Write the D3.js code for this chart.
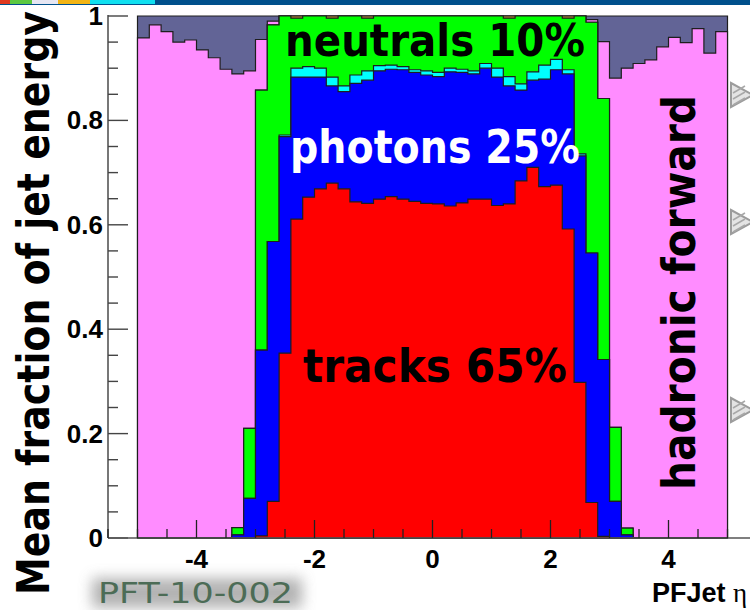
<!DOCTYPE html>
<html>
<head>
<meta charset="utf-8">
<script src="https://cdn.jsdelivr.net/npm/d3@7"></script>
<style>
  html, body { margin: 0; padding: 0; background: #ffffff; }
  svg { display: block; }
</style>
</head>
<body>
<svg id="chart" width="750" height="610"></svg>
<script>
// Mean fraction of PF jet energy carried by each particle type, in bins of jet eta.
const etaLow = -5.0;
const binWidth = 0.2;
const nBins = 50;

const tracks = [
  0, 0, 0, 0, 0, 0, 0, 0, 0, 0,
  0.004, 0.070,
  0.354, 0.611, 0.653, 0.669, 0.680, 0.669, 0.644, 0.641, 0.649, 0.654, 0.649, 0.645, 0.641,
  0.640, 0.636, 0.642, 0.649, 0.649, 0.637, 0.640, 0.684, 0.710, 0.673, 0.676, 0.592, 0.298,
  0.068, 0.003,
  0, 0, 0, 0, 0, 0, 0, 0, 0, 0
];
const photons = [
  0, 0, 0, 0, 0, 0, 0, 0, 0.006, 0.076,
  0.356, 0.498,
  0.415, 0.272, 0.230, 0.214, 0.186, 0.186, 0.227, 0.236, 0.246, 0.244, 0.248, 0.247, 0.246,
  0.244, 0.257, 0.250, 0.240, 0.251, 0.246, 0.226, 0.174, 0.167, 0.206, 0.221, 0.297, 0.434,
  0.478, 0.339,
  0.070, 0.006, 0, 0, 0, 0, 0, 0, 0, 0
];
const electrons = [
  0, 0, 0, 0, 0, 0, 0, 0, 0, 0,
  0, 0,
  0.003, 0.017, 0.020, 0.017, 0.017, 0.011, 0.016, 0.018, 0.010, 0.008, 0.006, 0.005, 0.008,
  0.008, 0.007, 0.006, 0.006, 0.009, 0.017, 0.018, 0.012, 0.016, 0.027, 0.020, 0.008, 0.004,
  0, 0,
  0, 0, 0, 0, 0, 0, 0, 0, 0, 0
];
const neutrals = [
  0, 0, 0, 0, 0, 0, 0, 0, 0.014, 0.134,
  0.498, 0.415,
  0.228, 0.096, 0.097, 0.100, 0.113, 0.134, 0.113, 0.101, 0.095, 0.094, 0.097, 0.103, 0.105,
  0.108, 0.100, 0.102, 0.105, 0.091, 0.100, 0.112, 0.130, 0.107, 0.094, 0.083, 0.099, 0.264,
  0.442, 0.500,
  0.142, 0.013, 0, 0, 0, 0, 0, 0, 0, 0
];
const muons = [
  0, 0, 0, 0, 0, 0, 0, 0, 0, 0,
  0, 0,
  0, 0.004, 0, 0, 0.004, 0, 0, 0.004, 0, 0, 0, 0, 0,
  0, 0, 0, 0, 0, 0, 0.004, 0, 0, 0, 0, 0.004, 0,
  0, 0,
  0, 0, 0, 0, 0, 0, 0, 0, 0, 0
];
const hfHadronic = [
  0.958, 0.983, 0.970, 0.950, 0.954, 0.935, 0.920, 0.898, 0.869, 0.685,
  0.097, 0.007,
  0, 0, 0, 0, 0, 0, 0, 0, 0, 0, 0, 0, 0,
  0, 0, 0, 0, 0, 0, 0, 0, 0, 0, 0, 0, 0,
  0.005, 0.109,
  0.669, 0.881, 0.909, 0.916, 0.941, 0.959, 0.949, 0.976, 0.929, 0.970
];
const hfEm = [
  0.042, 0.017, 0.030, 0.050, 0.046, 0.065, 0.080, 0.102, 0.111, 0.105,
  0.045, 0.010,
  0, 0, 0, 0, 0, 0, 0, 0, 0, 0, 0, 0, 0,
  0, 0, 0, 0, 0, 0, 0, 0, 0, 0, 0, 0, 0,
  0.007, 0.049,
  0.119, 0.100, 0.091, 0.084, 0.059, 0.041, 0.051, 0.024, 0.071, 0.030
];

const seriesKeys = ["tracks", "photons", "electrons", "neutrals", "muons", "hfHadronic", "hfEm"];
const seriesValues = { tracks, photons, electrons, neutrals, muons, hfHadronic, hfEm };
const seriesColors = {
  tracks: "#ff0000",
  photons: "#0000ff",
  electrons: "#00ffff",
  neutrals: "#00ff00",
  muons: "#c8963c",
  hfHadronic: "#ff8cff",
  hfEm: "#626496"
};

const yTicksMajor = [0, 0.2, 0.4, 0.6, 0.8, 1];
const yTickLabels = ["0", "0.2", "0.4", "0.6", "0.8", "1"];
const xTicksMajor = [-4, -2, 0, 2, 4];
const xTickLabels = ["-4", "-2", "0", "2", "4"];

const svg = d3.select("#chart");

// scales: frame spans eta -5.5 .. 5.5 (right part runs past the page edge)
const x = d3.scaleLinear().domain([-5.5, 5.5]).range([108, 757]);
const y = d3.scaleLinear().domain([0, 1]).range([538, 16]);

// slide header strip
const header = svg.append("g");
header.append("rect").attr("x", 0).attr("y", 0).attr("width", 750).attr("height", 5).attr("fill", "#00508c");
[[0, 10, "#e03a20"], [10, 32, "#5cc840"], [32, 58, "#e6e6f2"], [58, 90, "#f2b414"], [90, 155, "#10e0f0"]]
  .forEach(([a, b, c]) => header.append("rect").attr("x", a).attr("y", 0).attr("width", b - a).attr("height", 4).attr("fill", c));

// per-bin records, with a closing record at the upper edge for the step curve
const rows = d3.range(nBins).map(i => {
  const r = { eta: etaLow + i * binWidth };
  seriesKeys.forEach(k => r[k] = seriesValues[k][i]);
  return r;
});
const closing = Object.assign({}, rows[nBins - 1], { eta: etaLow + nBins * binWidth });
const stepRows = rows.concat([closing]);

const stacked = d3.stack().keys(seriesKeys)(stepRows);

// ROOT-style stack: each cumulative histogram filled from zero, drawn top-most first
const area = d3.area()
  .curve(d3.curveStepAfter)
  .x(d => x(d.data.eta))
  .y0(y(0))
  .y1(d => y(d[1]));

const histG = svg.append("g");
stacked.slice().reverse().forEach(layer => {
  histG.append("path")
    .attr("d", area(layer))
    .attr("fill", seriesColors[layer.key])
    .attr("stroke", "#1e1e1e")
    .attr("stroke-width", 1.2)
    .attr("stroke-linejoin", "miter");
});

// y axis on the left, ticks pointing into the frame
const yAxisG = svg.append("g").attr("transform", `translate(${x(-5.5)},0)`);
yAxisG.append("line").attr("x1", 0).attr("x2", 0).attr("y1", y(1) - 1).attr("y2", y(0)).attr("stroke", "#555").attr("stroke-width", 1.6);
const yMinor = d3.range(0, 1.0001, 0.05);
yAxisG.selectAll("line.tick").data(yMinor).join("line")
  .attr("class", "tick")
  .attr("x1", 0)
  .attr("x2", d => (Math.abs(Math.round(d * 5) - d * 5) < 1e-6 ? 20 : 10))
  .attr("y1", d => y(d)).attr("y2", d => y(d))
  .attr("stroke", "#444").attr("stroke-width", 1.4);
yAxisG.selectAll("text").data(yTicksMajor).join("text")
  .attr("x", -5)
  .attr("y", d => y(d) + 9)
  .attr("text-anchor", "end")
  .attr("font-family", "Liberation Sans, Arial, sans-serif")
  .attr("font-weight", "bold")
  .attr("font-size", 26)
  .attr("fill", "#000")
  .text((d, i) => yTickLabels[i]);

// x axis along the bottom, ticks pointing up over the histograms
const xAxisG = svg.append("g").attr("transform", `translate(0,${y(0)})`);
xAxisG.append("line").attr("x1", x(-5.5)).attr("x2", 750).attr("y1", 0).attr("y2", 0).attr("stroke", "#555").attr("stroke-width", 1.6);
const xMinor = d3.range(-5.5, 5.5001, 0.5);
xAxisG.selectAll("line.tick").data(xMinor).join("line")
  .attr("class", "tick")
  .attr("x1", d => x(d)).attr("x2", d => x(d))
  .attr("y1", 0)
  .attr("y2", d => (xTicksMajor.includes(d) ? -18 : -9))
  .attr("stroke", "#222").attr("stroke-width", 1.3);
xAxisG.selectAll("text").data(xTicksMajor).join("text")
  .attr("x", d => x(d))
  .attr("y", 30)
  .attr("text-anchor", "middle")
  .attr("font-family", "Liberation Sans, Arial, sans-serif")
  .attr("font-weight", "bold")
  .attr("font-size", 26)
  .attr("fill", "#000")
  .text((d, i) => xTickLabels[i]);

// text squeezed horizontally (in its own frame) to a target run length
function fittedText(parent, txt, tx, ty, rotate, anchor, size, targetLen, color, weight) {
  const g = parent.append("g").attr("transform", `translate(${tx},${ty}) rotate(${rotate})`);
  const t = g.append("text")
    .attr("text-anchor", anchor)
    .attr("font-family", "Comic Sans MS, DejaVu Sans, sans-serif")
    .attr("font-weight", weight)
    .attr("font-size", size)
    .attr("fill", color)
    .text(txt);
  const natural = t.node().getComputedTextLength();
  t.attr("transform", `scale(${targetLen / natural},1)`);
  return t;
}

// axis titles
fittedText(svg, "Mean fraction of jet energy", 49, 303, -90, "middle", 44, 584, "#000", "bold");

const xTitle = svg.append("text")
  .attr("x", 652).attr("y", 602)
  .attr("font-family", "Liberation Sans, Arial, sans-serif")
  .attr("font-weight", "bold")
  .attr("font-size", 27)
  .attr("fill", "#000");
xTitle.append("tspan").text("PFJet ");
xTitle.append("tspan").attr("font-family", "Liberation Serif, serif").attr("font-weight", "normal").text("η");

// in-plot annotations
fittedText(svg, "neutrals 10%", 285, 56, 0, "start", 44, 300, "#000", "bold");
fittedText(svg, "photons 25%", 290, 163, 0, "start", 46, 290, "#fff", "bold");
fittedText(svg, "tracks 65%", 303, 382, 0, "start", 47, 264, "#000", "bold");
fittedText(svg, "hadronic forward", 695, 490, -90, "start", 47, 395, "#000", "bold");

// analysis reference tag with soft shadow
const defs = svg.append("defs");
defs.append("filter").attr("id", "soft").attr("x", "-30%").attr("y", "-60%").attr("width", "160%").attr("height", "220%")
  .append("feGaussianBlur").attr("stdDeviation", 7);
svg.append("rect").attr("x", 92).attr("y", 578).attr("width", 210).attr("height", 30)
  .attr("fill", "#9a9a9a").attr("opacity", 0.75).attr("filter", "url(#soft)");
fittedText(svg, "PFT-10-002", 98, 603, 0, "start", 29, 195, "#4c6c56", "normal");

// slide bullets at the right margin
[95, 222, 410].forEach(cy => {
  const g = svg.append("g");
  g.append("path")
    .attr("d", `M731,${cy - 12} L753,${cy} L731,${cy + 12} Z`)
    .attr("fill", "#e4e4e4").attr("stroke", "#9c9c9c").attr("stroke-width", 2);
  [-6, 0, 6].forEach(o => g.append("line")
    .attr("x1", 733).attr("y1", cy + o + 4).attr("x2", 745).attr("y2", cy + o - 3)
    .attr("stroke", "#a8a8a8").attr("stroke-width", 1.5));
});
</script>
</body>
</html>
